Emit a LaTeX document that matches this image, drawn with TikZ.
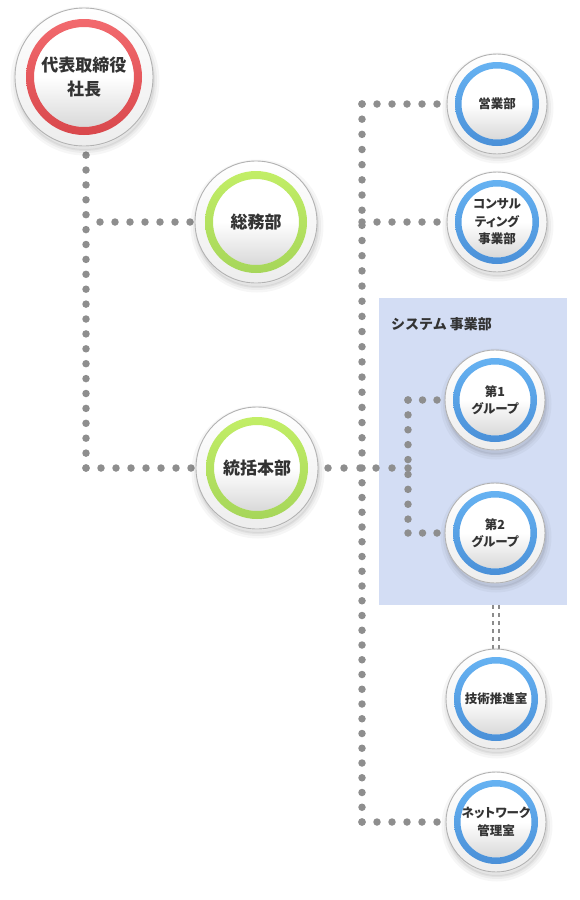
\documentclass[tikz,border=0pt]{standalone}
\usepackage{fontspec}
\setmainfont{Noto Sans CJK JP}
\newfontfamily\jpp{Noto Sans CJK JP}[RawFeature=+palt]
\pgfdeclarelayer{fg}\pgfsetlayers{main,fg}
\definecolor{txt}{HTML}{333333}
\definecolor{dotc}{HTML}{8E8E8E}
\definecolor{boxc}{HTML}{D3DDF4}
\definecolor{redA}{HTML}{F26A6E}\definecolor{redB}{HTML}{D9484C}
\definecolor{grnA}{HTML}{C2EE66}\definecolor{grnB}{HTML}{A6D65A}
\definecolor{bluA}{HTML}{66B2F2}\definecolor{bluB}{HTML}{4A90D8}
\tikzset{
 shadowlayer/.style={preaction={draw=black, draw opacity=#1, fill=black, fill opacity=#1,
    line width=#1*0pt+\pgfkeysvalueof{/tikz/shwidth}, transform canvas={shift={(1pt,-4pt)}}}},
 orb/.style n args={5}{circle, inner sep=0pt, minimum size=#1, draw=black!30, line width=0.9pt,
   fill=white, text=txt, align=center,
   preaction={draw=black, draw opacity=0.035, line width=11pt, fill=black, fill opacity=0.035, transform canvas={shift={(1pt,-4pt)}}},
   preaction={draw=black, draw opacity=0.04, line width=6pt, transform canvas={shift={(1pt,-4pt)}}},
   preaction={draw=black, draw opacity=0.05, line width=2pt, transform canvas={shift={(1pt,-4pt)}}},
   path picture={
     \coordinate (pc) at (path picture bounding box.center);
     \shade[top color=white, bottom color=black!7] (pc) circle[radius=#1/2];
     \shade[top color=white, bottom color=black!15, middle color=white] (pc) circle[radius=#2];
     \shade[top color=#4, bottom color=#5, even odd rule] (pc) circle[radius=#2+#3] (pc) circle[radius=#2];
   }},
 redorb/.style={orb={138pt}{50pt}{8pt}{redA}{redB}, font=\bfseries\fontsize{17}{24}\selectfont},
 grnorb/.style={orb={122pt}{43pt}{8pt}{grnA}{grnB}, font=\bfseries\fontsize{17}{23}\selectfont},
 bluorb/.style={orb={100pt}{35.5pt}{6.5pt}{bluA}{bluB}, font=\jpp\bfseries\fontsize{12.5}{17.5}\selectfont},
 sysbox/.style={rectangle, fill=boxc, draw=none, inner sep=0pt},
 dotline/.style={dotc, line width=7.5pt, line cap=round, dash pattern=on 0pt off #1},
 dotline/.default=15pt,
 dblline/.style={black!45, line width=2.6pt, dash pattern=on 4pt off 4pt}
}
\begin{document}
\begin{tikzpicture}[x=1pt,y=-1pt]
\useasboundingbox (0,0) rectangle (580,900);
\node[sysbox, minimum width=188pt, minimum height=307pt] (sys) at (473,451.5) {};
\node[anchor=west, font=\bfseries\fontsize{14}{16}\selectfont, text=txt, inner sep=0pt] (systitle) at (391,324) {システム 事業部};

\begin{pgfonlayer}{fg}
\node[redorb] (pres) at (84,77) {代表取締役\\社長};
\node[grnorb] (somu) at (256,222) {総務部};
\node[grnorb] (toka) at (257,468) {統括本部};
\node[bluorb] (eigyo) at (497,104) {営業部};
\node[bluorb] (cons) at (497,222) {コンサル\\ティング\\事業部};
\node[bluorb] (g1) at (495,400) {第1\\グループ};
\node[bluorb] (g2) at (495,533) {第2\\グループ};
\node[bluorb] (giju) at (496,699) {技術推進室};
\node[bluorb] (net) at (496,822) {ネットワーク\\管理室};
\end{pgfonlayer}

\coordinate (ltop) at (86,140);
\coordinate (lbot) at (86,468);
\coordinate (lsomu) at (100,222);
\coordinate (ctop) at (362,104);
\coordinate (ccon) at (362,222);
\coordinate (cmid) at (362,468);
\coordinate (cbot) at (362,822);
\coordinate (btop) at (408,400);
\coordinate (bmid) at (408,468);
\coordinate (bbot) at (408,533);

\draw[dotline=14.9pt] (lbot) -- (ltop);
\draw[dotline] (lbot) -- (toka.west);
\draw[dotline] (lsomu) -- (somu.west);
\draw[dotline=15.17pt] (ctop) -- (cmid);
\draw[dotline=14.75pt] (cbot) -- (cmid);
\draw[dotline] (ctop) -- (eigyo.west);
\draw[dotline] (ccon) -- (cons.west);
\draw[dotline] (cbot) -- (net.west);
\draw[dotline=16pt] (bmid) -- (toka.east);
\draw[dotline=14.89pt] (btop) -- (bbot);
\draw[dotline=14.5pt] (btop) -- (g1.west);
\draw[dotline=14.5pt] (bbot) -- (g2.west);
\draw[dblline] ([xshift=-3pt]giju.north |- sys.south) -- ([xshift=-3pt]giju.north);
\draw[dblline] ([xshift=3pt]giju.north |- sys.south) -- ([xshift=3pt]giju.north);
\end{tikzpicture}
\end{document}
